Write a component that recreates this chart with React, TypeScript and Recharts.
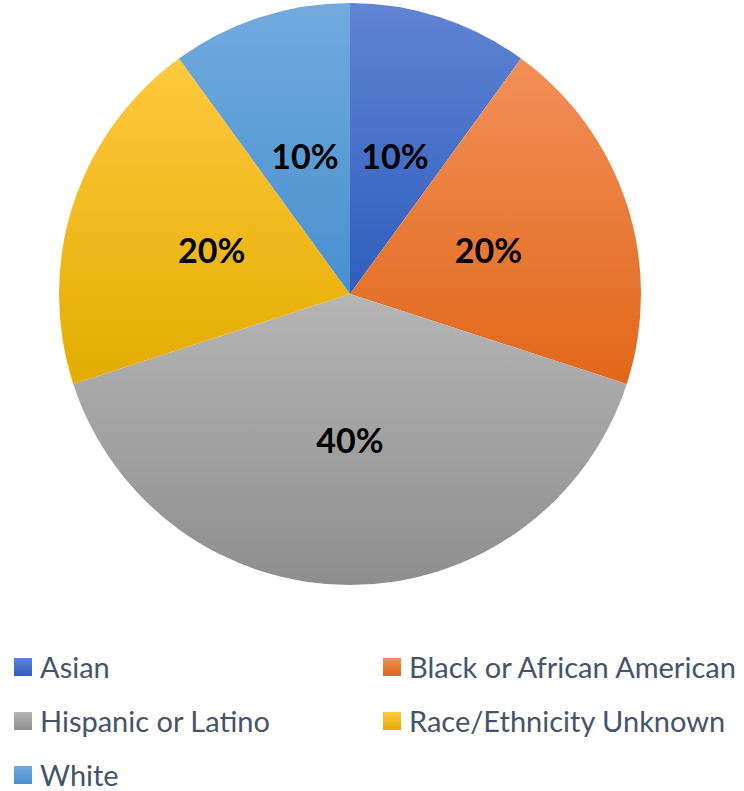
import React from 'react';
import { PieChart, Pie, Cell } from 'recharts';

const categories = ['Asian', 'Black or African American', 'Hispanic or Latino', 'Race/Ethnicity Unknown', 'White'];
const shares = [10, 20, 40, 20, 10];
const gradTop = ['#5F84D2', '#F28F58', '#B5B5B5', '#FFC93F', '#72AADD'];
const gradBottom = ['#2F5EBE', '#E0681A', '#8E8E8E', '#E3AC00', '#4890D0'];

const data = categories.map((name, i) => ({ name, value: shares[i] }));

const RAD = Math.PI / 180;

const renderLabel = (props: any) => {
  const { cx, cy, midAngle, outerRadius, value } = props;
  const r = outerRadius * 0.5;
  const x = cx + r * Math.cos(-midAngle * RAD);
  const y = cy + r * Math.sin(-midAngle * RAD);
  return (
    <text
      x={x}
      y={y}
      textAnchor="middle"
      dominantBaseline="central"
      fill="#000"
      fontFamily="Lato, 'Open Sans', sans-serif"
      fontWeight={700}
      fontSize={34}
    >
      {value}%
    </text>
  );
};

const legendPos = [
  { x: 14, y: 668 },
  { x: 383, y: 668 },
  { x: 14, y: 722 },
  { x: 383, y: 722 },
  { x: 14, y: 776 },
];

export default function App() {
  return (
    <div style={{ position: 'absolute', left: 0, top: 0, width: 744, height: 791, background: '#fff', overflow: 'hidden' }}>
      <PieChart width={744} height={600} margin={{ top: 0, right: 0, bottom: 0, left: 0 }}>
        <defs>
          {categories.map((c, i) => (
            <linearGradient key={c} id={`g${i}`} x1="0" y1="0" x2="0" y2="1">
              <stop offset="0%" stopColor={gradTop[i]} />
              <stop offset="100%" stopColor={gradBottom[i]} />
            </linearGradient>
          ))}
        </defs>
        <Pie
          data={data}
          dataKey="value"
          nameKey="name"
          cx={350}
          cy={294}
          outerRadius={291}
          startAngle={90}
          endAngle={-270}
          stroke="none"
          label={renderLabel}
          labelLine={false}
          isAnimationActive={false}
        >
          {data.map((_, i) => (
            <Cell key={`cell-${i}`} fill={`url(#g${i})`} />
          ))}
        </Pie>
      </PieChart>
      {categories.map((c, i) => (
        <div
          key={c}
          style={{
            position: 'absolute',
            left: legendPos[i].x,
            top: legendPos[i].y - 16,
            height: 30,
            lineHeight: '30px',
            display: 'flex',
            alignItems: 'center',
            fontFamily: "Lato, 'Open Sans', sans-serif",
            fontSize: 29,
            color: '#44546A',
            whiteSpace: 'nowrap',
          }}
        >
          <span
            style={{
              display: 'inline-block',
              width: 18,
              height: 18,
              marginRight: 8,
              background: `linear-gradient(${gradTop[i]}, ${gradBottom[i]})`,
            }}
          />
          {c}
        </div>
      ))}
    </div>
  );
}
